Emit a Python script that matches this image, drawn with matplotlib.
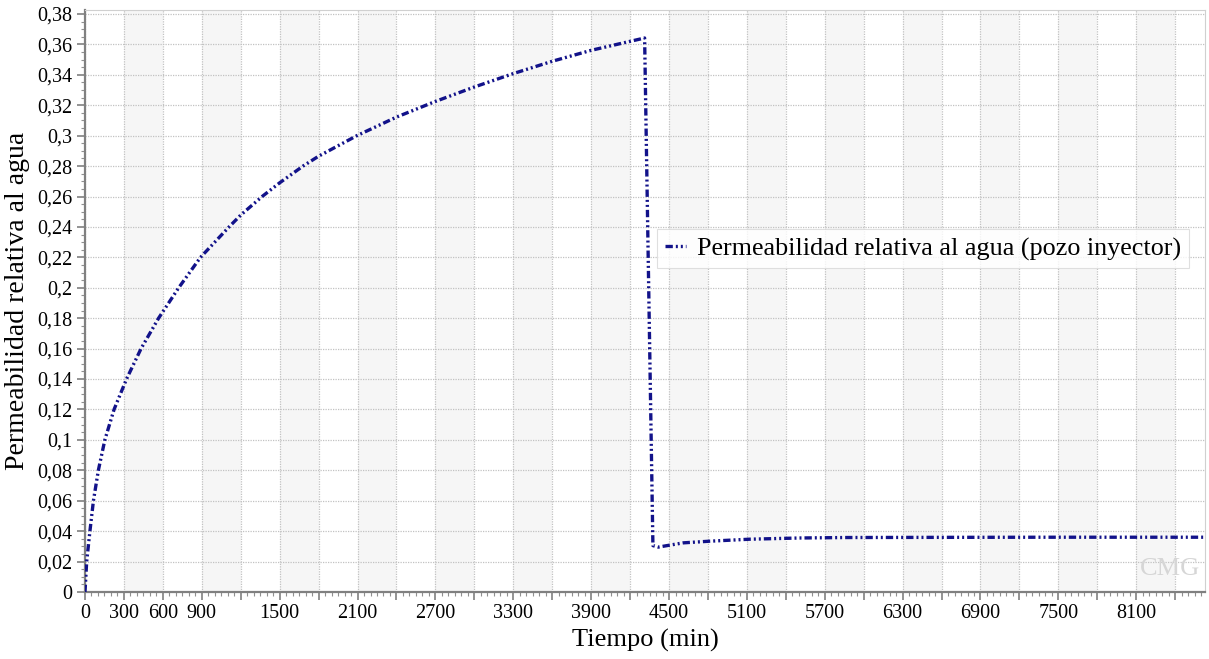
import matplotlib.pyplot as plt
from matplotlib.ticker import FuncFormatter, MultipleLocator
import numpy as np

# Tiempo (min) y permeabilidad relativa
tiempo = [0, 13, 38, 65, 103, 153, 224, 320, 432, 567, 722, 890, 1110, 1200,
          1365, 1500, 1680, 1800, 2095, 2400, 2700, 3000, 3300, 3600, 3900,
          4200, 4312, 4376, 4417, 4610, 4815, 5123, 5508, 5868, 6500, 7500, 8630]
krw = [0, 0.02, 0.04, 0.06, 0.08, 0.10, 0.12, 0.14, 0.16, 0.18, 0.20, 0.22,
       0.24, 0.2478, 0.26, 0.269, 0.28, 0.2865, 0.30, 0.3122, 0.3225, 0.332,
       0.3408, 0.3489, 0.3561, 0.362, 0.3642, 0.0305, 0.0295, 0.0323, 0.0334,
       0.0347, 0.0355, 0.0358, 0.0359, 0.036, 0.036]

xlabels_shown = [0, 300, 600, 900, 1500, 2100, 2700, 3300, 3900, 4500, 5100,
                 5700, 6300, 6900, 7500, 8100]
serie = 'Permeabilidad relativa al agua (pozo inyector)'

plt.rcParams['font.family'] = ['Liberation Serif', 'DejaVu Serif']

fig = plt.figure(figsize=(12.09, 6.59), dpi=100)
ax = fig.add_axes([0.0703, 0.1017, 0.9264, 0.8831])

xmax = 8630
ymax = 0.3826

# bandas alternas
for x0 in np.arange(300, xmax, 600):
    ax.axvspan(x0, min(x0 + 300, xmax), color='#f6f6f6', lw=0, zorder=0)

ax.plot(tiempo, krw, color='#12128a', lw=2.4,
        linestyle=(0, (2.2, 0.9, 0.6, 0.9, 0.6, 0.9)), label=serie, zorder=3)

ax.set_xlim(0, xmax)
ax.set_ylim(0, ymax)

xt = np.arange(0, xmax, 300)
ax.set_xticks(xt)
ax.set_xticklabels([str(v) if v in xlabels_shown else '' for v in xt])
ax.xaxis.set_minor_locator(MultipleLocator(50))
ax.set_yticks(np.arange(0, 0.381, 0.02))
ax.yaxis.set_minor_locator(MultipleLocator(0.005))
ax.yaxis.set_major_formatter(FuncFormatter(lambda v, p: ('%g' % round(v, 3)).replace('.', ',')))

ax.grid(True, which='major', color='#c2c2c2', linestyle=(0, (1, 1)), lw=0.9, zorder=1)
ax.set_axisbelow(True)

ax.tick_params(axis='both', which='major', labelsize=14.5, length=6, width=1.2,
               color='#808080', direction='out', pad=3)
ax.tick_params(axis='both', which='minor', length=3, width=0.8, color='#909090')

for s in ['left', 'bottom']:
    ax.spines[s].set_color('#808080')
    ax.spines[s].set_linewidth(1.6)
for s in ['top', 'right']:
    ax.spines[s].set_color('#d0d0d0')
    ax.spines[s].set_linewidth(0.8)

ax.set_xlabel('Tiempo (min)', fontsize=19, labelpad=4)
ax.set_ylabel('Permeabilidad relativa al agua', fontsize=20, labelpad=5)

leg = ax.legend(loc='upper left', bbox_to_anchor=(0.5107, 0.6237), fontsize=18.8,
                frameon=True, fancybox=False, handlelength=0.8, handletextpad=0.45,
                borderpad=0.3, borderaxespad=0)
leg.get_frame().set_edgecolor('#d8d8d8')
leg.get_frame().set_linewidth(0.8)

ax.text(0.9955, 0.02, 'CMG', transform=ax.transAxes, ha='right', va='bottom',
        fontsize=19, color='#d6d6d6', zorder=2)

fig.savefig('out.png', dpi=100)
